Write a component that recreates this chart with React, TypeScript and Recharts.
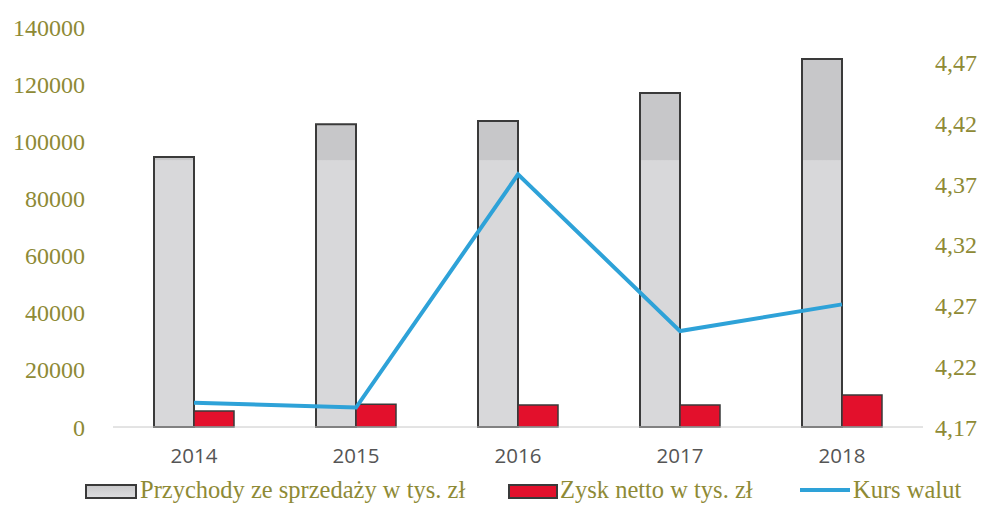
import { Bar, ComposedChart, Legend, Line, XAxis, YAxis } from "recharts";

const years = ["2014", "2015", "2016", "2017", "2018"];
const przychody = [94500, 106000, 107100, 116900, 128800];
const zysk = [5600, 8000, 7700, 7700, 11200];
const kurs = [4.19, 4.186, 4.378, 4.249, 4.271];
const leftTicks = [0, 20000, 40000, 60000, 80000, 100000, 120000, 140000];
const rightTicks = [4.17, 4.22, 4.27, 4.32, 4.37, 4.42, 4.47];

const data = years.map((year, i) => ({
	year,
	przychody: przychody[i],
	zysk: zysk[i],
	kurs: kurs[i],
}));

const olive = "#8e8a35";
const serif = "'Liberation Serif', 'DejaVu Serif', serif";

function ChartLegend() {
	const text = {
		position: "absolute" as const,
		top: 7,
		fontFamily: serif,
		fontSize: 24.5,
		color: olive,
		lineHeight: "26px",
		whiteSpace: "nowrap" as const,
	};
	return (
		<div style={{ position: "relative", width: 997, height: 36 }}>
			<div
				style={{
					position: "absolute",
					left: 85,
					top: 14,
					width: 48,
					height: 11,
					border: "2px solid #3a3a3a",
					background: "linear-gradient(#c9c9cb, #dcdcde)",
				}}
			/>
			<span style={{ ...text, left: 140 }}>Przychody ze sprzedaży w tys. zł</span>
			<div
				style={{
					position: "absolute",
					left: 508,
					top: 14,
					width: 46,
					height: 11,
					border: "2px solid #3a3a3a",
					background: "#e3102c",
				}}
			/>
			<span style={{ ...text, left: 560 }}>Zysk netto w tys. zł</span>
			<div
				style={{
					position: "absolute",
					left: 800,
					top: 18,
					width: 50,
					height: 4,
					background: "#2ea2d8",
				}}
			/>
			<span style={{ ...text, left: 853 }}>Kurs walut</span>
		</div>
	);
}

export default function App() {
	return (
		<div style={{ position: "absolute", left: 0, top: 0, background: "#fff" }}>
			<ComposedChart
				width={997}
				height={506}
				data={data}
				barGap={0}
				margin={{ top: 2, right: 0, left: 0, bottom: 0 }}
			>
				<defs>
					<linearGradient
						id="greyFill"
						gradientUnits="userSpaceOnUse"
						x1="0"
						y1="0"
						x2="0"
						y2="427"
					>
						<stop offset="0" stopColor="#c7c7c9" />
						<stop offset="0.375" stopColor="#c7c7c9" />
						<stop offset="0.376" stopColor="#d8d8da" />
						<stop offset="1" stopColor="#d8d8da" />
					</linearGradient>
				</defs>
				<XAxis
					dataKey="year"
					height={43}
					tickLine={false}
					stroke="#c8c8c8"
					tick={{ fill: "#555", fontSize: 20.5, fontFamily: "'Open Sans', sans-serif" }}
					tickMargin={15}
				/>
				<YAxis
					yAxisId="left"
					width={113}
					domain={[0, 148750]}
					ticks={leftTicks}
					axisLine={false}
					tickLine={false}
					tickSize={0}
					tickMargin={28}
					tick={{ fill: olive, fontSize: 24, fontFamily: serif }}
				/>
				<YAxis
					yAxisId="right"
					orientation="right"
					width={74}
					domain={[4.17, 4.52]}
					allowDataOverflow
					ticks={rightTicks}
					axisLine={false}
					tickLine={false}
					tickSize={0}
					tickMargin={12}
					tickFormatter={(v: number) => v.toFixed(2).replace(".", ",")}
					tick={{ fill: olive, fontSize: 24, fontFamily: serif }}
				/>
				<Legend verticalAlign="bottom" height={36} content={() => <ChartLegend />} />
				<Bar
					yAxisId="left"
					dataKey="przychody"
					barSize={40}
					fill="url(#greyFill)"
					stroke="#3a3a3a"
					strokeWidth={2}
					isAnimationActive={false}
				/>
				<Bar
					yAxisId="left"
					dataKey="zysk"
					barSize={40}
					fill="#e3102c"
					stroke="#3a3a3a"
					strokeWidth={1.5}
					isAnimationActive={false}
				/>
				<Line
					yAxisId="right"
					dataKey="kurs"
					stroke="#2ea2d8"
					strokeWidth={4}
					dot={false}
					isAnimationActive={false}
				/>
			</ComposedChart>
		</div>
	);
}
